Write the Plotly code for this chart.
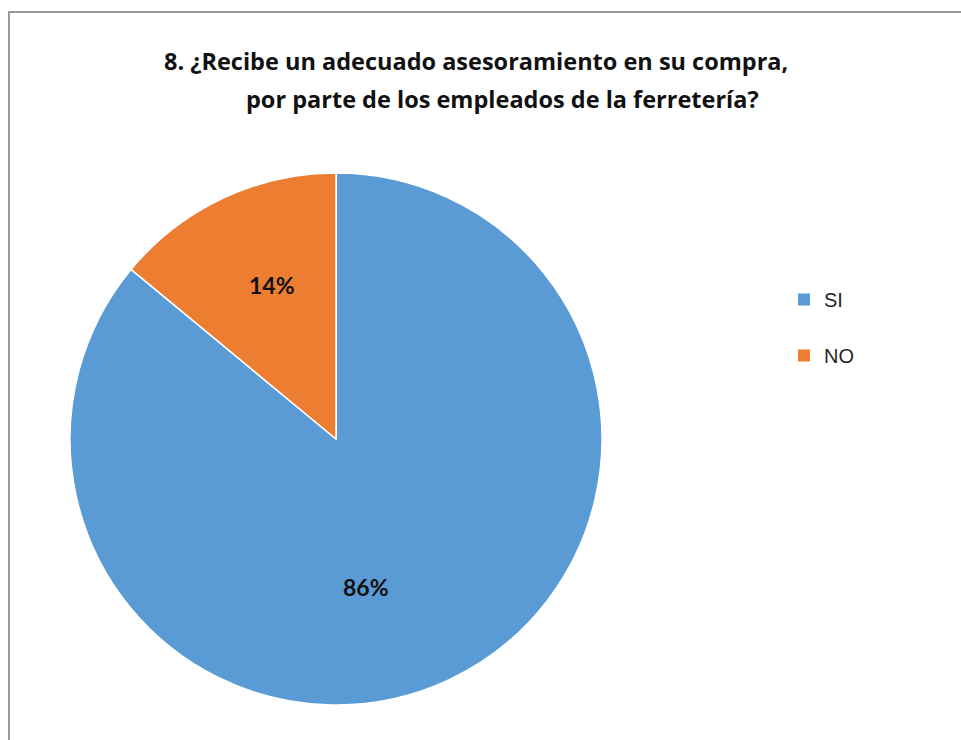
import plotly.graph_objects as go

# Survey answers and their share of respondents
categories = ["SI", "NO"]
shares = [86, 14]
colors = ["#5B9BD5", "#ED7D31"]

title_lines = [
    "8. ¿Recibe un adecuado asesoramiento en su compra,",
    "por parte de los empleados de la ferretería?",
]

W, H = 961, 740

# Pixel centres of the two title lines and of the percentage labels
title_pos = [(476, 61), (502, 99)]
label_pos = [(366, 587), (272, 285)]


def px_x(x):
    return x / W


def px_y(y):
    return 1 - y / H


fig = go.Figure()

fig.add_trace(go.Pie(
    labels=categories,
    values=shares,
    sort=False,
    direction="clockwise",
    rotation=0,
    marker=dict(colors=colors, line=dict(color="white", width=1.5)),
    textinfo="none",
    domain=dict(x=[px_x(70), px_x(602)], y=[px_y(705), px_y(173)]),
    showlegend=False,
    hoverinfo="label+percent",
))

# Legend entries: one group per category so the entries can be spaced apart
for name, col in zip(categories, colors):
    fig.add_trace(go.Scatter(
        x=[None], y=[None], mode="markers", name=name, legendgroup=name,
        marker=dict(symbol="square", size=12, color=col),
        showlegend=True,
    ))

annotations = []
for line, (cx, cy) in zip(title_lines, title_pos):
    annotations.append(dict(
        text=line, x=px_x(cx), y=px_y(cy), xref="paper", yref="paper",
        xanchor="center", yanchor="middle", showarrow=False,
        font=dict(family="Open Sans", size=23.5, color="#111111", weight="bold"),
    ))

# Percentage labels on the slices
total = sum(shares)
for v, (cx, cy) in zip(shares, label_pos):
    annotations.append(dict(
        text=f"{round(100 * v / total)}%", x=px_x(cx), y=px_y(cy),
        xref="paper", yref="paper", xanchor="center", yanchor="middle",
        showarrow=False,
        font=dict(family="Lato", size=23, color="#111111", weight="bold"),
    ))

fig.update_layout(
    width=W, height=H,
    margin=dict(l=0, r=0, t=0, b=0),
    paper_bgcolor="white",
    plot_bgcolor="white",
    xaxis=dict(visible=False),
    yaxis=dict(visible=False),
    annotations=annotations,
    legend=dict(
        x=px_x(784), y=px_y(280), xanchor="left", yanchor="top",
        font=dict(family="Liberation Sans", size=20, color="#262626"),
        tracegroupgap=27,
        itemwidth=30,
        bgcolor="rgba(0,0,0,0)",
    ),
    shapes=[dict(
        type="rect", xref="paper", yref="paper",
        x0=px_x(9), x1=1.02, y0=-0.02, y1=px_y(12),
        line=dict(color="#9a9a9a", width=2), fillcolor="rgba(0,0,0,0)",
        layer="below",
    )],
)

fig.write_html("out.html")
